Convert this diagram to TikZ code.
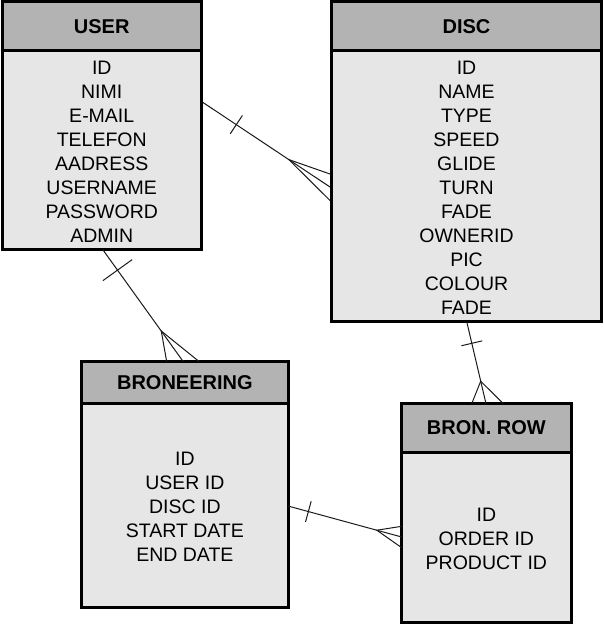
\documentclass[tikz,border=0pt]{standalone}
\usepackage{fontspec}
\setmainfont{Liberation Sans}
\usetikzlibrary{calc}
\definecolor{hdgray}{HTML}{B3B3B3}
\definecolor{bdgray}{HTML}{E6E6E6}
\definecolor{relcol}{HTML}{1A1A1A}
\begin{document}
\begin{tikzpicture}[x=1pt,y=-1pt,
  hd/.style={draw=black,line width=3pt,fill=hdgray,rectangle,inner sep=0pt,
    font=\fontsize{20}{24}\selectfont\bfseries},
  bd/.style={draw=black,line width=3pt,fill=bdgray,rectangle,inner sep=0pt},
  bdtext/.style={inner sep=0pt,align=center,font=\fontsize{19.5}{24}\selectfont},
  rel/.style={draw=relcol,line width=1pt}]
\fill[white] (0,0) rectangle (603,631);
\useasboundingbox (0,0) rectangle (603,631);

% USER
\node[hd,minimum width=199.5pt,minimum height=49.5pt] (userh) at (101.75,26.25) {USER};
\node[bd,minimum width=199.5pt,minimum height=198.5pt] (userb) at (101.75,150.25) {};
\node[bdtext] (usert) at ($(userb.center)+(0,2)$)
  {ID\\NIMI\\E-MAIL\\TELEFON\\AADRESS\\USERNAME\\PASSWORD\\ADMIN};

% DISC
\node[hd,minimum width=270pt,minimum height=49.5pt] (disch) at (466.5,26.25) {DISC};
\node[bd,minimum width=270pt,minimum height=270.5pt] (discb) at (466.5,186.25) {};
\node[bdtext] (disct) at ($(discb.center)+(0,2)$)
  {ID\\NAME\\TYPE\\SPEED\\GLIDE\\TURN\\FADE\\OWNERID\\PIC\\COLOUR\\FADE};

% BRONEERING
\node[hd,minimum width=206.3pt,minimum height=41.3pt] (bronh) at (184.85,382.35) {BRONEERING};
\node[bd,minimum width=206.3pt,minimum height=204.5pt] (bronb) at (184.85,505.25) {};
\node[bdtext] (bront) at ($(bronb.center)+(0,1.5)$)
  {ID\\USER ID\\DISC ID\\START DATE\\END DATE};

% BRON. ROW
\node[hd,minimum width=169.3pt,minimum height=48.3pt] (rowh) at (486.35,427.85) {BRON. ROW};
\node[bd,minimum width=169.3pt,minimum height=170.5pt] (rowb) at (486.35,537.25) {};
\node[bdtext] (rowt) at ($(rowb.center)+(0,1.5)$)
  {ID\\ORDER ID\\PRODUCT ID};

% connector end points on the box borders
\coordinate (s1) at (userb.east |- 0,102.5);
\coordinate (e1) at (discb.west |- 0,187);
\coordinate (s2) at (102.7,249.5);
\coordinate (e2) at (183.3,361.7);
\coordinate (s3) at (466.7,321.5);
\coordinate (e3) at (486,403.7);
\coordinate (s4) at (288,506);
\coordinate (e4) at (401.7,537);

% USER -- DISC
\draw[rel] (s1) -- (e1);
\coordinate (t1) at ($(s1)!40pt!(e1)$);
\draw[rel] ($(t1)!11pt!90:(e1)$) -- ($(t1)!11pt!-90:(e1)$);
\coordinate (a1) at ($(e1)!49.5pt!(s1)$);
\draw[rel] ($(e1)+(0,-13)$) -- (a1) -- ($(e1)+(0,13.5)$);

% USER -- BRONEERING
\draw[rel] (s2) -- (e2);
\coordinate (t2) at ($(s2)!25.4pt!(e2)$);
\draw[rel] ($(t2)!18pt!90:(e2)$) -- ($(t2)!18pt!-90:(e2)$);
\coordinate (a2) at ($(e2)!37.8pt!(s2)$);
\draw[rel] ($(e2)+(-16.6,0)$) -- (a2) -- ($(e2)+(16,0)$);

% DISC -- BRON. ROW
\draw[rel] (s3) -- (e3);
\coordinate (t3) at ($(s3)!22.4pt!(e3)$);
\draw[rel] ($(t3)!10.7pt!90:(e3)$) -- ($(t3)!10.7pt!-90:(e3)$);
\coordinate (a3) at ($(e3)!23.1pt!(s3)$);
\draw[rel] ($(e3)+(-14.3,0)$) -- (a3) -- ($(e3)+(17.3,0)$);

% BRONEERING -- BRON. ROW
\draw[rel] (s4) -- (e4);
\coordinate (t4) at ($(s4)!21.1pt!(e4)$);
\draw[rel] ($(t4)!10.7pt!90:(e4)$) -- ($(t4)!10.7pt!-90:(e4)$);
\coordinate (a4) at ($(e4)!25.8pt!(s4)$);
\draw[rel] ($(e4)+(0,-10.7)$) -- (a4) -- ($(e4)+(0,10.7)$);
\end{tikzpicture}
\end{document}
